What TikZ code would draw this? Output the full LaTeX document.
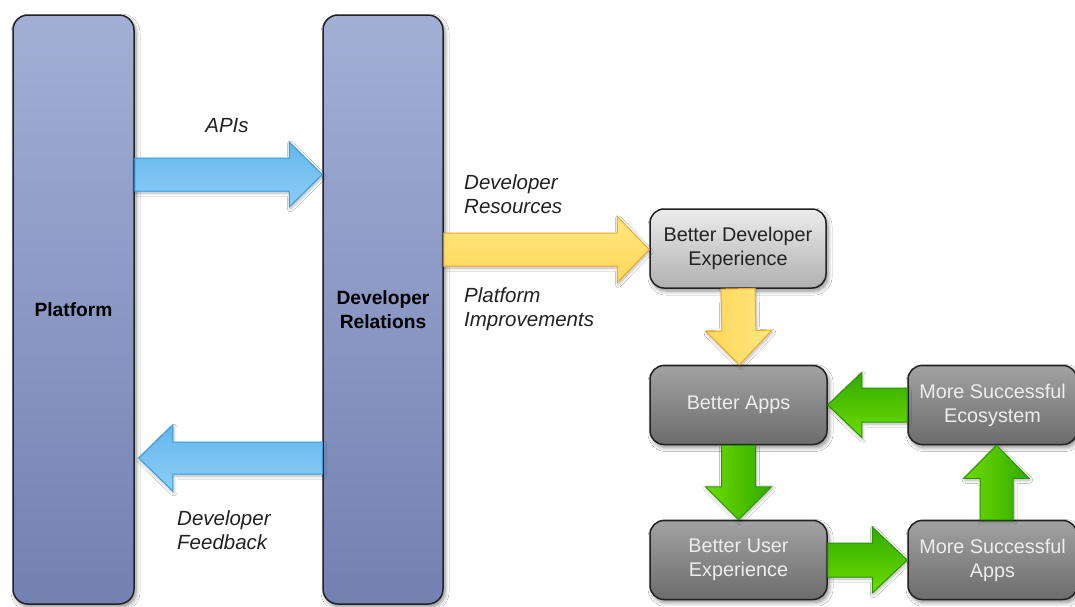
\documentclass[tikz,border=0pt]{standalone}
\usepackage{fontspec}
\setmainfont{Liberation Sans}
\usetikzlibrary{calc,shadows.blur}

\definecolor{pillartop}{RGB}{162,175,213}
\definecolor{pillarbot}{RGB}{114,129,178}
\definecolor{darktop}{RGB}{162,162,162}
\definecolor{darkbot}{RGB}{108,108,108}
\definecolor{lighttop}{RGB}{236,236,236}
\definecolor{lightbot}{RGB}{176,176,176}
\definecolor{boxline}{RGB}{34,34,34}
\definecolor{labeltext}{RGB}{34,34,34}
\definecolor{blueline}{RGB}{52,160,224}
\definecolor{bluelight}{RGB}{142,206,246}
\definecolor{bluedark}{RGB}{100,182,236}
\definecolor{yellowline}{RGB}{244,168,40}
\definecolor{yellowlight}{RGB}{255,232,128}
\definecolor{yellowdark}{RGB}{255,214,90}
\definecolor{greenline}{RGB}{40,150,0}
\definecolor{greenlight}{RGB}{110,220,0}
\definecolor{greendark}{RGB}{50,170,0}

\tikzset{
  x=1pt, y=-1pt,
  every node/.style={font=\fontsize{19.8}{24}\selectfont, align=center, inner sep=0pt},
  boxshadow/.style={blur shadow={shadow xshift=2pt, shadow yshift=-3pt,
      shadow blur steps=6, shadow blur radius=4pt, shadow opacity=45}},
  pillar/.style={draw=boxline, line width=1.5pt, rounded corners=15pt,
      top color=pillartop, bottom color=pillarbot, boxshadow,
      minimum width=121pt, minimum height=589pt, font=\fontsize{19.2}{24}\selectfont\bfseries},
  stagebox/.style={draw=boxline, line width=1.5pt, rounded corners=14pt,
      top color=darktop, bottom color=darkbot, boxshadow, text=white!93!black,
      minimum width=177pt, minimum height=79pt},
  lightbox/.style={stagebox, top color=lighttop, bottom color=lightbot, text=labeltext,
      minimum width=176pt},
  flowlabel/.style={text=labeltext, font=\fontsize{20.5}{24}\selectfont\itshape, align=left},
  arrowshadow/.style={blur shadow={shadow xshift=1pt, shadow yshift=-2pt,
      shadow blur steps=5, shadow blur radius=3pt, shadow opacity=30}},
  bluearrow/.style={draw=blueline, line width=1pt, line join=miter, arrowshadow,
      top color=bluedark, bottom color=bluelight},
  yellowarrow/.style={draw=yellowline, line width=1pt, line join=miter, arrowshadow,
      top color=yellowlight, bottom color=yellowdark},
  yellowarrowv/.style={draw=yellowline, line width=1pt, line join=miter, arrowshadow,
      left color=yellowdark, right color=yellowlight},
  greenarrowh/.style={draw=greenline, line width=1pt, line join=miter, arrowshadow,
      top color=greendark, bottom color=greenlight},
  greenarrowv/.style={draw=greenline, line width=1pt, line join=miter, arrowshadow,
      left color=greenlight, right color=greendark},
}

% \fatarrow[style]{start}{tip}{shaft half width}{head half width}{head length}
\newcommand\fatarrow[6][]{%
  \coordinate (fa-base) at ($(#3)!#6!(#2)$);
  \path[#1] ($(#2)!#4!90:(#3)$) -- ($(fa-base)!#4!90:(#3)$)
    -- ($(fa-base)!#5!90:(#3)$) -- (#3)
    -- ($(fa-base)!#5!-90:(#3)$) -- ($(fa-base)!#4!-90:(#3)$)
    -- ($(#2)!#4!-90:(#3)$) -- cycle;}

\begin{document}
\begin{tikzpicture}
  \path[use as bounding box] (0,0) rectangle (1075,606);
  \clip (0,0) rectangle (1075,606);
  \fill[white] (0,0) rectangle (1075,606);

  % the two tall pillars
  \node[pillar] (plat) at (73.5,309.5) {Platform};
  \node[pillar, minimum width=120pt] (devrel) at (383,309.5) {Developer\\Relations};

  % the outcome boxes
  \node[lightbox] (bdx) at (738,248.5) {Better Developer\\Experience};
  \node[stagebox] (bapps) at (738.5,405) {Better Apps};
  \node[stagebox, minimum width=169pt] (ecos) at (992.5,405) {More Successful\\Ecosystem};
  \node[stagebox] (bux) at (738.5,560) {Better User\\Experience};
  \node[stagebox, minimum width=169pt] (msa) at (992.5,560) {More Successful\\Apps};

  % end points of the fat arrows
  \coordinate (apiS) at (plat.east |- 0,174.5);
  \coordinate (apiT) at (devrel.west |- apiS);
  \coordinate (fbS) at (devrel.west |- 0,458);
  \coordinate (fbT) at ($(plat.east |- fbS)+(4,0)$);
  \coordinate (resS) at (devrel.east |- 0,249.5);
  \coordinate (resT) at (bdx.west |- resS);
  \coordinate (dwnS) at (bdx.south);
  \coordinate (dwnT) at ($(bapps.north)+(1,0)$);
  \coordinate (ecoS) at (ecos.west);
  \coordinate (ecoT) at (bapps.east);
  \coordinate (appS) at (bapps.south);
  \coordinate (appT) at (bux.north);
  \coordinate (uxS) at (bux.east);
  \coordinate (uxT) at (msa.west);
  \coordinate (msaS) at ($(msa.north)+(4,0)$);
  \coordinate (msaT) at ($(ecos.south)+(4,0)$);

  \fatarrow[bluearrow]{apiS}{apiT}{16.5pt}{32.5pt}{33pt}
  \fatarrow[bluearrow]{fbS}{fbT}{16pt}{33pt}{34pt}
  \fatarrow[yellowarrow]{resS}{resT}{16.5pt}{33pt}{32pt}
  \fatarrow[yellowarrowv]{dwnS}{dwnT}{17pt}{33pt}{34pt}
  \fatarrow[greenarrowh]{ecoS}{ecoT}{17pt}{32.5pt}{34pt}
  \fatarrow[greenarrowv]{appS}{appT}{17pt}{33pt}{33pt}
  \fatarrow[greenarrowh]{uxS}{uxT}{17pt}{33pt}{35pt}
  \fatarrow[greenarrowv]{msaS}{msaT}{16.5pt}{32.5pt}{33pt}

  % flow labels
  \node[flowlabel] (lapi) at (227,126) {APIs};
  \node[flowlabel, anchor=west] (lres) at (464,194) {Developer\\Resources};
  \node[flowlabel, anchor=west] (limp) at (464,309) {Platform\\Improvements};
  \node[flowlabel, anchor=west] (lfb) at (177,530) {Developer\\Feedback};
\end{tikzpicture}
\end{document}
